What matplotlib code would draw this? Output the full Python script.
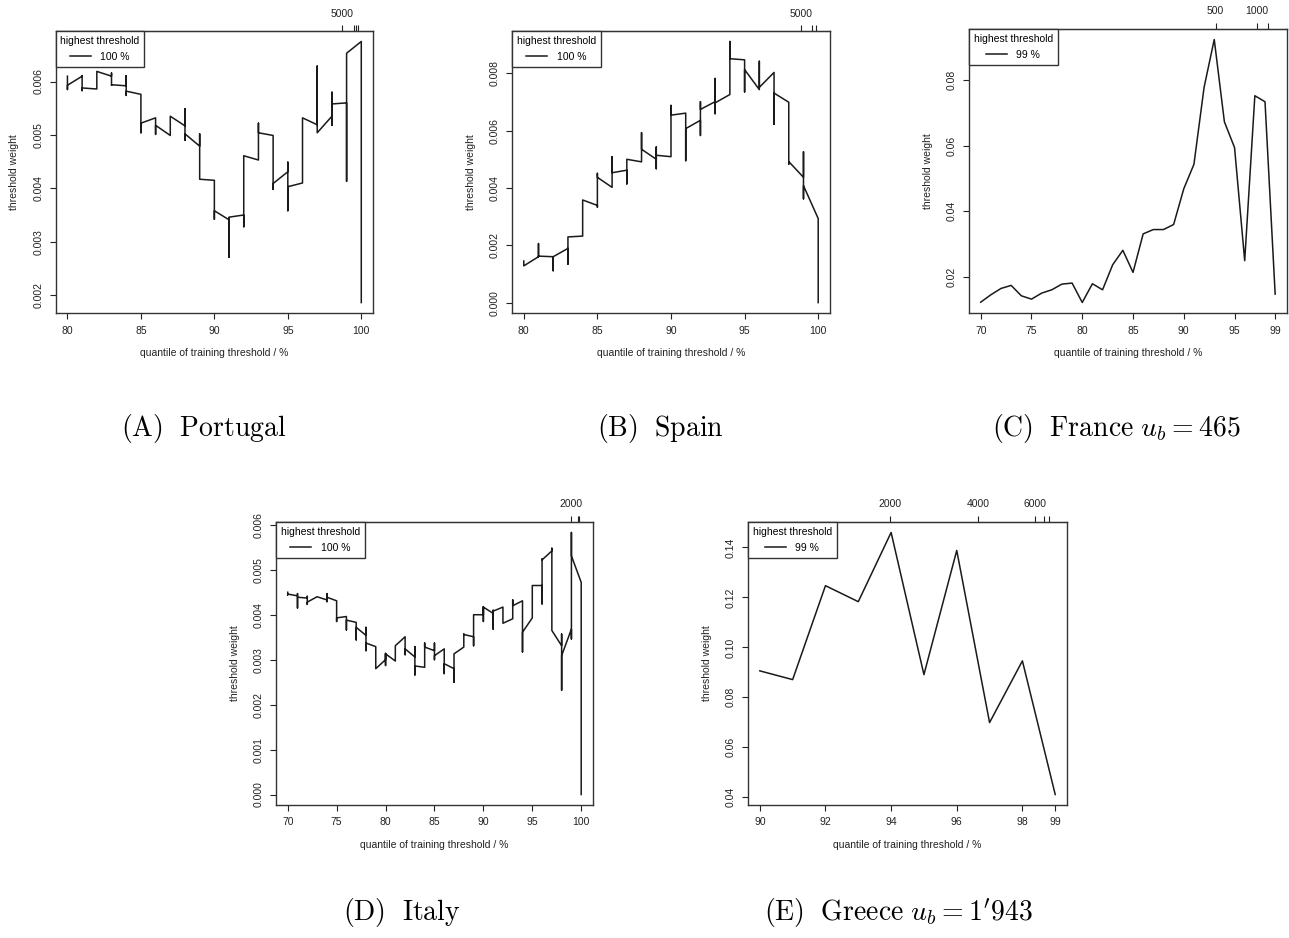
import numpy as np
import matplotlib.pyplot as plt

plt.rcParams['font.family'] = ['Liberation Sans', 'DejaVu Sans']
plt.rcParams['mathtext.fontset'] = 'cm'

# ---- data ----
# A/B/D: at every integer quantile several weights are drawn one after the other
pt_q = list(range(80, 101))
pt_w = [[0.00610, 0.00585, 0.00593], [0.00610, 0.00611, 0.00583, 0.00588],
        [0.00586, 0.00619], [0.00610, 0.00616, 0.00593, 0.00594],
        [0.00592, 0.00611, 0.00574, 0.00582], [0.00576, 0.00504, 0.00522],
        [0.00532, 0.00532, 0.00501, 0.00518], [0.00499, 0.00535],
        [0.00517, 0.00549, 0.00490, 0.00502], [0.00479, 0.00502, 0.00417],
        [0.00415, 0.00342, 0.00358], [0.00341, 0.00344, 0.00271, 0.00346],
        [0.00350, 0.00328, 0.00461], [0.00453, 0.00522, 0.00504],
        [0.00499, 0.00398, 0.00409], [0.00431, 0.00449, 0.00358, 0.00403],
        [0.00410, 0.00532], [0.00519, 0.00629, 0.00504],
        [0.00535, 0.00580, 0.00518, 0.00558], [0.00560, 0.00413, 0.00653],
        [0.00675, 0.00186]]
pt_top = [98.67, 99.53, 99.64, 99.77]
pt_top_lab = ['5000', '', '', '']

es_q = list(range(80, 101))
es_w = [[0.00145, 0.00128], [0.00160, 0.00206, 0.00160, 0.00162],
        [0.00160, 0.00111, 0.00160], [0.00189, 0.00134, 0.00229],
        [0.00232, 0.00358], [0.00339, 0.00333, 0.00451, 0.00437],
        [0.00402, 0.00509, 0.00453], [0.00462, 0.00414, 0.00500],
        [0.00491, 0.00593, 0.00535], [0.00500, 0.00543, 0.00467, 0.00514],
        [0.00509, 0.00688, 0.00654], [0.00661, 0.00495, 0.00607],
        [0.00636, 0.00583, 0.00701, 0.00674], [0.00701, 0.00782, 0.00659, 0.00697],
        [0.00726, 0.00911, 0.00851], [0.00847, 0.00735, 0.00813],
        [0.00743, 0.00842, 0.00751], [0.00803, 0.00622, 0.00731],
        [0.00699, 0.00483, 0.00492], [0.00437, 0.00526, 0.00362, 0.00408],
        [0.00293, 0.0]]
es_top = [98.82, 99.60, 99.82]
es_top_lab = ['5000', '', '']

fr_q = list(range(70, 100))
fr_w = [0.01235, 0.0146, 0.01653, 0.01745, 0.01429, 0.01327, 0.0151, 0.01612,
        0.01785, 0.01816, 0.01225, 0.01796, 0.01612, 0.02376, 0.02814, 0.02142,
        0.03314, 0.03446, 0.03446, 0.03599, 0.04689, 0.05433, 0.07776, 0.09233,
        0.06727, 0.05942, 0.02498, 0.07521, 0.07338, 0.0148]
fr_top = [93.14, 97.22, 98.26]
fr_top_lab = ['500', '1000', '']

it_q = list(range(70, 101))
it_w = [[0.00450, 0.00444, 0.00446], [0.00442, 0.00447, 0.00415, 0.00439],
        [0.00437, 0.00441, 0.00423, 0.00428], [0.00440, 0.00440],
        [0.00433, 0.00447, 0.00429, 0.00439], [0.00431, 0.00385, 0.00393],
        [0.00396, 0.00396, 0.00366, 0.00388], [0.00383, 0.00383, 0.00344, 0.00372],
        [0.00354, 0.00372, 0.00320, 0.00337], [0.00329, 0.00280],
        [0.00300, 0.00314, 0.00287, 0.00313], [0.00297, 0.00331],
        [0.00351, 0.00311, 0.00324], [0.00306, 0.00329, 0.00266, 0.00286],
        [0.00283, 0.00337, 0.00328], [0.00320, 0.00337, 0.00300, 0.00309],
        [0.00324, 0.00269, 0.00291], [0.00280, 0.00250, 0.00313],
        [0.00328, 0.00357, 0.00356], [0.00351, 0.00331, 0.00400],
        [0.00400, 0.00418, 0.00385, 0.00417], [0.00403, 0.00410, 0.00368, 0.00408],
        [0.00417, 0.00381], [0.00391, 0.00433, 0.00420],
        [0.00431, 0.00317, 0.00361], [0.00393, 0.00465],
        [0.00465, 0.00424, 0.00524, 0.00522], [0.00542, 0.00548, 0.00365],
        [0.00331, 0.00357, 0.00232, 0.00309], [0.00368, 0.00346, 0.00583, 0.00531],
        [0.00472, 0.0]]
it_top = [98.95, 99.63, 99.80]
it_top_lab = ['2000', '', '']

gr_q = list(range(90, 100))
gr_w = [0.0906, 0.0871, 0.1247, 0.1183, 0.146, 0.0891, 0.1388, 0.0699, 0.0946, 0.0411]
gr_top = [93.97, 96.66, 98.38, 98.67, 98.81]
gr_top_lab = ['2000', '4000', '6000', '', '']


def expand(q, w):
    xs, ys = [], []
    for qq, vals in zip(q, w):
        for v in vals:
            xs.append(qq)
            ys.append(v)
    return xs, ys


def panel(rect, xs, ys, xticks, xlabs, yticks, yfmt, top, toplab, leg):
    ax = fig.add_axes(rect)
    ax.plot(xs, ys, color='#1a1a1a', lw=1.1, label=leg)
    ax.margins(x=0.04, y=0.04)
    ax.set_xticks(xticks, xlabs)
    ax.set_yticks(yticks, [yfmt % t for t in yticks], rotation=90, va='center')
    ax.tick_params(direction='out', length=4, width=0.8, labelsize=7.5,
                   colors='#222222', pad=5)
    for s in ax.spines.values():
        s.set_linewidth(1.0)
        s.set_color('#333333')
    ax.set_xlabel('quantile of training threshold / %', fontsize=7.5,
                  labelpad=9, color='#222222')
    ax.set_ylabel('threshold weight', fontsize=7.5, labelpad=10, color='#222222')
    sec = ax.secondary_xaxis('top')
    sec.set_xticks(top, toplab)
    sec.tick_params(direction='out', length=4, width=0.8, labelsize=7.5,
                    colors='#222222', pad=5)
    lg = ax.legend(loc='upper left', bbox_to_anchor=(0, 1), borderaxespad=0,
                   title='highest threshold', fontsize=7.5, title_fontsize=7.5,
                   fancybox=False, edgecolor='#333333', framealpha=1,
                   handlelength=2.0, handletextpad=0.9, borderpad=0.45,
                   labelspacing=0.6)
    lg.get_frame().set_linewidth(1.0)
    return ax


fig = plt.figure(figsize=(12.89, 9.38), dpi=100)

x, y = expand(pt_q, pt_w)
panel([0.0432, 0.6663, 0.2462, 0.3006], x, y, [80, 85, 90, 95, 100],
      ['80', '85', '90', '95', '100'], [0.002, 0.003, 0.004, 0.005, 0.006], '%.3f',
      pt_top, pt_top_lab, '100 %')

x, y = expand(es_q, es_w)
panel([0.3972, 0.6663, 0.2467, 0.3006], x, y, [80, 85, 90, 95, 100],
      ['80', '85', '90', '95', '100'], [0.0, 0.002, 0.004, 0.006, 0.008], '%.3f',
      es_top, es_top_lab, '100 %')

panel([0.7517, 0.6663, 0.2467, 0.3028], fr_q, fr_w, [70, 75, 80, 85, 90, 95, 99],
      ['70', '75', '80', '85', '90', '95', '99'], [0.02, 0.04, 0.06, 0.08], '%.2f',
      fr_top, fr_top_lab, '99 %')

x, y = expand(it_q, it_w)
panel([0.2141, 0.1418, 0.2459, 0.3017], x, y, [70, 75, 80, 85, 90, 95, 100],
      ['70', '75', '80', '85', '90', '95', '100'],
      [0.0, 0.001, 0.002, 0.003, 0.004, 0.005, 0.006], '%.3f',
      it_top, it_top_lab, '100 %')

panel([0.5803, 0.1418, 0.2475, 0.3017], gr_q, gr_w, [90, 92, 94, 96, 98, 99],
      ['90', '92', '94', '96', '98', '99'], [0.04, 0.06, 0.08, 0.10, 0.12, 0.14], '%.2f',
      gr_top, gr_top_lab, '99 %')

cap = dict(fontsize=20, ha='center', va='center')
fig.text(204 / 1289, 0.5437, r'$\mathrm{(A)\ \ Portugal}$', **cap)
fig.text(660 / 1289, 0.5437, r'$\mathrm{(B)\ \ Spain}$', **cap)
fig.text(1116 / 1289, 0.5437, r'$\mathrm{(C)\ \ France}\ u_b = 465$', **cap)
fig.text(402 / 1289, 0.0277, r'$\mathrm{(D)\ \ Italy}$', **cap)
fig.text(898 / 1289, 0.0277, r"$\mathrm{(E)\ \ Greece}\ u_b = 1'943$", **cap)

fig.savefig('out.png', dpi=100)
